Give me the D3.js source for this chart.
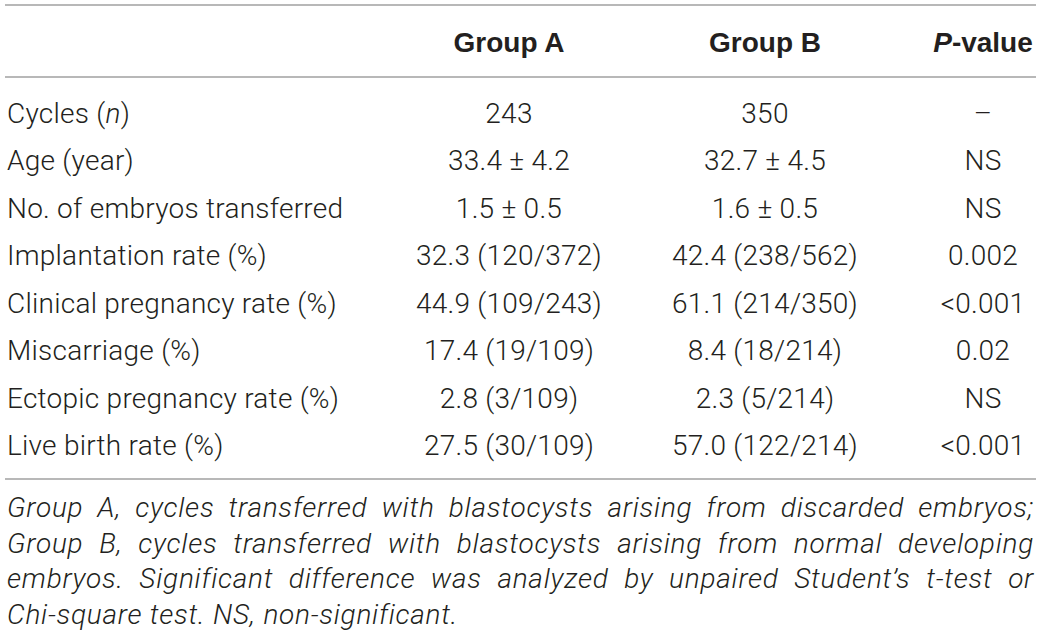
<!DOCTYPE html>
<html><head><meta charset="utf-8">
<script src="https://cdn.jsdelivr.net/npm/d3@7"></script>
<style>
html,body{margin:0;padding:0;background:#fff;}
svg{display:block;}
text{font-family:"Liberation Sans",Arial,Helvetica,sans-serif;}
text.light{font-family:Roboto,"Liberation Sans",Arial,sans-serif;font-weight:300;letter-spacing:0.25px;}
text.foot{letter-spacing:0.75px;}
</style></head>
<body>
<svg id="chart" width="1041" height="640"></svg>
<script>
// ---- data ----
const headers = ["", "Group A", "Group B", "*P*-value"];
const rowLabels = [
  "Cycles (*n*)",
  "Age (year)",
  "No. of embryos transferred",
  "Implantation rate (%)",
  "Clinical pregnancy rate (%)",
  "Miscarriage (%)",
  "Ectopic pregnancy rate (%)",
  "Live birth rate (%)"
];
const groupA = ["243", "33.4 ± 4.2", "1.5 ± 0.5", "32.3 (120/372)", "44.9 (109/243)", "17.4 (19/109)", "2.8 (3/109)", "27.5 (30/109)"];
const groupB = ["350", "32.7 ± 4.5", "1.6 ± 0.5", "42.4 (238/562)", "61.1 (214/350)", "8.4 (18/214)", "2.3 (5/214)", "57.0 (122/214)"];
const pValues = ["–", "NS", "NS", "0.002", "<0.001", "0.02", "NS", "<0.001"];
const footnoteLines = [
  "Group A, cycles transferred with blastocysts arising from discarded embryos;",
  "Group B, cycles transferred with blastocysts arising from normal developing",
  "embryos. Significant difference was analyzed by unpaired Student’s t-test or",
  "Chi-square test. NS, non-significant."
];

// ---- layout ----
const svg = d3.select("#chart");
const left = 7, right = 1034;
const fs = 28;
const textColor = "#231f20";
const ruleColor = "#a0a0a0";

const cols = ["label", "A", "B", "P"];
const x = d3.scaleOrdinal().domain(cols).range([left, 509, 765, 983]);
const anchor = d3.scaleOrdinal().domain(cols).range(["start", "middle", "middle", "middle"]);
const y = d3.scaleLinear().domain([0, rowLabels.length - 1]).range([123, 455]);
const fy = d3.scaleLinear().domain([0, footnoteLines.length - 1]).range([517, 623.5]);

function addRich(sel, str) {
  const parts = str.split("*");
  parts.forEach((p, i) => {
    if (p === "") return;
    sel.append("tspan").text(p).attr("font-style", i % 2 === 1 ? "italic" : null);
  });
}

// rules
const rules = [5, 77, 479];
svg.selectAll("line.rule").data(rules).join("line")
  .attr("class", "rule")
  .attr("x1", 5).attr("x2", 1036)
  .attr("y1", d => d).attr("y2", d => d)
  .attr("stroke", ruleColor).attr("stroke-width", 1.6);

// header
headers.forEach((h, i) => {
  if (!h) return;
  const t = svg.append("text")
    .attr("x", x(cols[i])).attr("y", 52)
    .attr("text-anchor", anchor(cols[i]))
    .attr("font-size", fs).attr("font-weight", "bold")
    .attr("fill", textColor);
  addRich(t, h);
});

// body rows
const rows = rowLabels.map((l, i) => ({ i, cells: [l, groupA[i], groupB[i], pValues[i]] }));
const rowG = svg.append("g").selectAll("g.row").data(rows).join("g").attr("class", "row");
rowG.each(function (r) {
  const sel = d3.select(this);
  r.cells.forEach((c, j) => {
    const t = sel.append("text")
      .attr("class", "light")
      .attr("x", x(cols[j])).attr("y", y(r.i))
      .attr("text-anchor", anchor(cols[j]))
      .attr("font-size", fs)
      .attr("fill", textColor);
    addRich(t, c);
  });
});

// footnote, justified
footnoteLines.forEach((line, li) => {
  const words = line.split(" ");
  const last = li === footnoteLines.length - 1;
  const tmp = svg.append("g");
  const widths = words.map(w => {
    const t = tmp.append("text").attr("class", "light foot").attr("font-size", fs).attr("font-style", "italic").text(w);
    return t.node().getComputedTextLength();
  });
  tmp.remove();
  const total = d3.sum(widths);
  const spaceDefault = fs * 0.27;
  const gap = last ? spaceDefault : (right - left - total) / (words.length - 1);
  let cx = left;
  words.forEach((w, k) => {
    svg.append("text")
      .attr("class", "light foot")
      .attr("x", cx).attr("y", fy(li))
      .attr("font-size", fs).attr("font-style", "italic")
      .attr("fill", textColor)
      .text(w);
    cx += widths[k] + gap;
  });
});
</script>
</body></html>
